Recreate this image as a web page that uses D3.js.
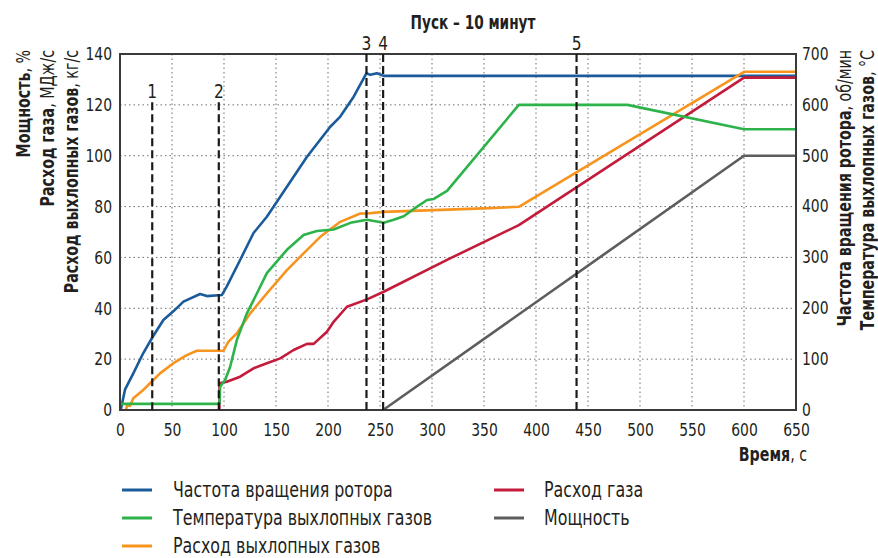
<!DOCTYPE html>
<html>
<head>
<meta charset="utf-8">
<script src="https://cdn.jsdelivr.net/npm/d3@7"></script>
<style>
  body { margin: 0; background: #fff; }
  svg { display: block; }
  text { font-family: "Liberation Sans Narrow", "DejaVu Sans Condensed", "Roboto Condensed", sans-serif; font-stretch: condensed; fill: #231f20; }
  .bold { font-weight: bold; }
</style>
</head>
<body>
<svg id="chart" width="878" height="558"></svg>
<script>
// time ticks and value ticks
const xTicks = [0, 50, 100, 150, 200, 250, 300, 350, 400, 450, 500, 550, 600, 650];
const leftTicks = [0, 20, 40, 60, 80, 100, 120, 140];
const rightTicks = [0, 100, 200, 300, 400, 500, 600, 700];

// rotor speed, rpm (right axis)
const rotorSpeed = [[0.7, 0], [4.8, 40], [12.8, 72], [22.4, 112], [31.5, 144], [41.7, 177], [51.3, 194], [61, 213],
  [77, 228], [83.5, 224], [97.9, 226], [102.7, 243], [115.5, 295], [128.4, 348], [141.2, 380], [160.5, 439],
  [179.8, 498], [202.2, 557], [211.8, 577], [224.7, 616], [236.9, 662], [240.7, 659], [247.1, 662], [253.5, 657], [650, 657]];
// exhaust temperature, °C (right axis)
const exhaustTemp = [[0, 12], [95.6, 12], [96.3, 46], [101.1, 59], [105.9, 85], [112.4, 138], [122, 190], [131.6, 229],
  [141.2, 269], [160.5, 315], [176.5, 344], [189.3, 352], [205.4, 355], [221.5, 368], [237.5, 374], [253.5, 368],
  [263.2, 374], [272.8, 381], [285.7, 400], [295.3, 413], [301.7, 415], [314.5, 431], [383.5, 600], [487.9, 600],
  [600, 552], [650, 552]];
// exhaust flow, kg/s (left axis)
const exhaustFlow = [[5.8, 0], [7, 2], [9.6, 1.6], [12.8, 4.6], [22.4, 7.9], [28.9, 10.5], [38.5, 14.4], [51.3, 18.4],
  [64.2, 21.6], [73.9, 23.3], [99.5, 23.3], [104.3, 26.9], [112.4, 30.2], [125.2, 38], [141.3, 45.9], [160.5, 55],
  [176.5, 61.6], [192.6, 68.1], [211.8, 74], [231, 77.3], [237.5, 77.3], [253.5, 77.9], [301.7, 78.6], [349.8, 79.3],
  [383.5, 79.9], [600, 133], [650, 133]];
// gas flow, MJ/s (left axis)
const gasFlow = [[95.6, 0], [95.6, 10.5], [102.7, 11.1], [115.5, 13.1], [128.4, 16.4], [141.2, 18.4], [154.1, 20.3],
  [166.9, 23.6], [179.8, 26], [186.2, 26], [199, 30.8], [205.4, 34.7], [218.2, 40.6], [237.5, 43.5], [253.5, 46.5],
  [317.8, 59.7], [383.5, 72.7], [600, 130.7], [650, 130.7]];
// power, % (left axis)
const power = [[253, 0], [600, 100], [650, 100]];

// stage markers: time, top of the dashed line (left units), label
const markerT = [31, 95, 237, 253, 439];
const markerTop = [121, 121, 140, 140, 140];
const markerLabels = ['1', '2', '3', '4', '5'];

const series = [
  { name: 'Частота вращения ротора', data: rotorSpeed, axis: 'right', color: '#1b5b9a' },
  { name: 'Мощность', data: power, axis: 'left', color: '#5d5d5f' },
  { name: 'Расход газа', data: gasFlow, axis: 'left', color: '#c41a3b' },
  { name: 'Расход выхлопных газов', data: exhaustFlow, axis: 'left', color: '#f7941d' },
  { name: 'Температура выхлопных газов', data: exhaustTemp, axis: 'right', color: '#2db34a' }
];
const legendLeft = ['Частота вращения ротора', 'Температура выхлопных газов', 'Расход выхлопных газов'];
const legendRight = ['Расход газа', 'Мощность'];

const svg = d3.select('#chart');
const m = { left: 120, right: 796, top: 54, bottom: 410 };

const x = d3.scaleLinear().domain([0, 650]).range([m.left, m.right]);
const yL = d3.scaleLinear().domain([0, 140]).range([m.bottom, m.top]);
const yR = d3.scaleLinear().domain([0, 700]).range([m.bottom, m.top]);

// narrow the fallback font horizontally, keeping the anchor point
function squeeze(sel, sx) {
  sel.each(function () {
    const t = d3.select(this);
    const tx = +t.attr('x') || 0, ty = +t.attr('y') || 0;
    t.attr('x', null).attr('y', null)
      .attr('transform', `translate(${tx},${ty}) scale(${sx},1)`);
  });
}

// grid
const grid = svg.append('g').attr('stroke', '#6d6e71').attr('stroke-width', 1).attr('stroke-dasharray', '1.5,3');
grid.selectAll('.gx').data(xTicks.slice(1, -1)).join('line')
  .attr('x1', d => x(d)).attr('x2', d => x(d)).attr('y1', m.top).attr('y2', m.bottom);
grid.selectAll('.gy').data(leftTicks.slice(1, -1)).join('line')
  .attr('x1', m.left).attr('x2', m.right).attr('y1', d => yL(d)).attr('y2', d => yL(d));

// axes (labels only, no tick marks)
const fs = 18, sq = 0.86;
svg.append('g').attr('transform', `translate(0,${m.bottom})`)
  .call(d3.axisBottom(x).tickValues(xTicks).tickSize(0).tickPadding(13))
  .call(g => g.select('.domain').remove())
  .call(g => g.selectAll('text').attr('font-size', fs).attr('font-family', null).call(squeeze, sq));
svg.append('g').attr('transform', `translate(${m.left},0)`)
  .call(d3.axisLeft(yL).tickValues(leftTicks).tickSize(0).tickPadding(8))
  .call(g => g.select('.domain').remove())
  .call(g => g.selectAll('text').attr('font-size', fs).attr('font-family', null).call(squeeze, sq));
svg.append('g').attr('transform', `translate(${m.right},0)`)
  .call(d3.axisRight(yR).tickValues(rightTicks).tickSize(0).tickPadding(6))
  .call(g => g.select('.domain').remove())
  .call(g => g.selectAll('text').attr('font-size', fs).attr('font-family', null).attr('dy', '0.3em').call(squeeze, sq));

// series
const line = s => d3.line()
  .x(d => x(d[0]))
  .y(d => (s.axis === 'left' ? yL : yR)(d[1]));
svg.append('g').selectAll('path').data(series).join('path')
  .attr('fill', 'none')
  .attr('stroke', s => s.color)
  .attr('stroke-width', 2.6)
  .attr('stroke-linejoin', 'round')
  .attr('d', s => line(s)(s.data));

// frame
svg.append('rect')
  .attr('x', m.left).attr('y', m.top)
  .attr('width', m.right - m.left).attr('height', m.bottom - m.top)
  .attr('fill', 'none').attr('stroke', '#3a3a3a').attr('stroke-width', 2);

// stage markers
const mk = svg.append('g');
mk.selectAll('line').data(markerT).join('line')
  .attr('x1', d => x(d)).attr('x2', d => x(d))
  .attr('y1', (d, i) => yL(markerTop[i])).attr('y2', m.bottom)
  .attr('stroke', '#1a1a1a').attr('stroke-width', 2.2).attr('stroke-dasharray', '8,4');
mk.selectAll('text').data(markerT).join('text')
  .attr('x', d => x(d)).attr('y', (d, i) => yL(markerTop[i]) - 4)
  .attr('text-anchor', 'middle').attr('font-size', 20)
  .text((d, i) => markerLabels[i])
  .call(squeeze, sq);

// title
svg.append('text').attr('class', 'bold')
  .attr('x', 473).attr('y', 29).attr('text-anchor', 'middle').attr('font-size', 20)
  .text('Пуск – 10 минут')
  .call(squeeze, 0.76);

// vertical axis titles
function vLabel(xPos, boldPart, rest) {
  const t = svg.append('text')
    .attr('transform', `translate(${xPos},50) rotate(-90) scale(0.79,1)`)
    .attr('text-anchor', 'end').attr('font-size', 20);
  t.append('tspan').attr('class', 'bold').text(boldPart);
  t.append('tspan').text(rest);
}
vLabel(30, 'Мощность', ', %');
vLabel(54, 'Расход газа', ', МДж/с');
vLabel(78, 'Расход выхлопных газов', ', кг/с');
vLabel(851, 'Частота вращения ротора', ', об/мин');
vLabel(874, 'Температура выхлопных газов', ', °С');

// x axis title
const xt = svg.append('text').attr('x', 807).attr('y', 461).attr('text-anchor', 'end').attr('font-size', 20);
xt.append('tspan').attr('class', 'bold').text('Время');
xt.append('tspan').text(', с');
squeeze(xt, 0.79);

// legend
const colorOf = name => series.find(s => s.name === name).color;
function legendCol(names, x0, tx) {
  const g = svg.append('g');
  g.selectAll('line').data(names).join('line')
    .attr('x1', x0).attr('x2', x0 + 30)
    .attr('y1', (d, i) => 490 + i * 28).attr('y2', (d, i) => 490 + i * 28)
    .attr('stroke', d => colorOf(d)).attr('stroke-width', 3);
  g.selectAll('text').data(names).join('text')
    .attr('x', tx).attr('y', (d, i) => 490 + i * 28 + 7)
    .attr('font-size', 21)
    .text(d => d)
    .call(squeeze, 0.84);
}
legendCol(legendLeft, 122, 173);
legendCol(legendRight, 494, 544);
</script>
</body>
</html>
